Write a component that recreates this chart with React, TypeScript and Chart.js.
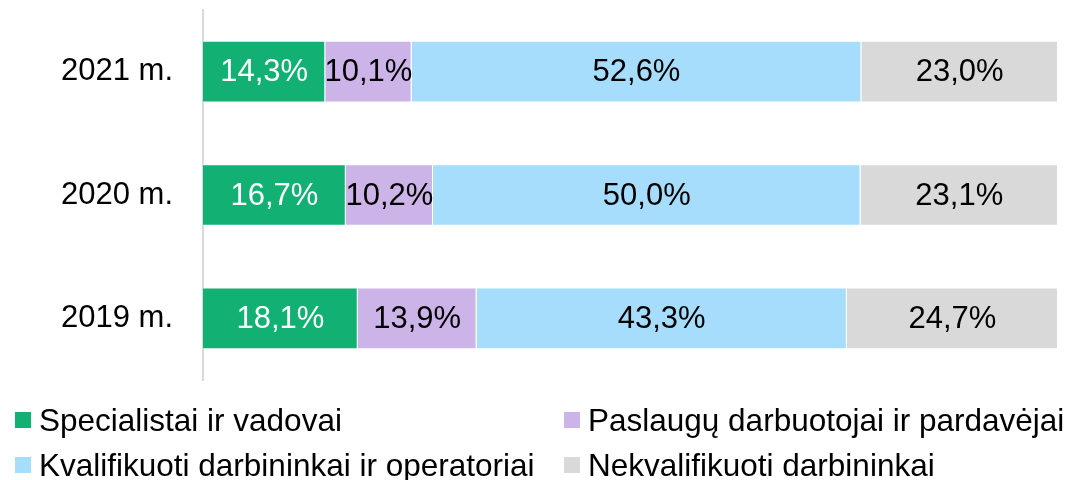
import React, { useEffect, useRef } from "react";
import { Chart, registerables } from "chart.js";

Chart.register(...registerables);

const categories = ["2021 m.", "2020 m.", "2019 m."];
const seriesNames = [
  "Specialistai ir vadovai",
  "Paslaugų darbuotojai ir pardavėjai",
  "Kvalifikuoti darbininkai ir operatoriai",
  "Nekvalifikuoti darbininkai",
];
const specialistai = [14.3, 16.7, 18.1];
const paslaugu = [10.1, 10.2, 13.9];
const kvalifikuoti = [52.6, 50.0, 43.3];
const nekvalifikuoti = [23.0, 23.1, 24.7];
const colors = ["#12B173", "#CDB4E8", "#A6DDFD", "#D9D9D9"];
const labelColors = ["#FFFFFF", "#000000", "#000000", "#000000"];

const FONT = "'Liberation Sans', Arial, sans-serif";

const labelPlugin = {
  id: "segLabels",
  afterDatasetsDraw(chart: any) {
    const ctx = chart.ctx;
    ctx.save();
    ctx.font = `31px ${FONT}`;
    ctx.textAlign = "center";
    ctx.textBaseline = "middle";
    chart.data.datasets.forEach((ds: any, di: number) => {
      const meta = chart.getDatasetMeta(di);
      meta.data.forEach((bar: any, i: number) => {
        const v = ds.data[i];
        const cx = (bar.x + bar.base) / 2;
        ctx.fillStyle = labelColors[di];
        ctx.fillText(v.toFixed(1).replace(".", ",") + "%", cx, bar.y + 1);
      });
    });
    ctx.restore();
  },
};

export default function App() {
  const ref = useRef<HTMLCanvasElement>(null);
  useEffect(() => {
    const values = [specialistai, paslaugu, kvalifikuoti, nekvalifikuoti];
    const chart = new Chart(ref.current!, {
      type: "bar",
      data: {
        labels: categories,
        datasets: seriesNames.map((n, i) => ({
          label: n,
          data: values[i],
          backgroundColor: colors[i],
          borderColor: "#FFFFFF",
          borderWidth: { top: 1, bottom: 1, left: 0, right: 1 },
          borderSkipped: false,
          barPercentage: 0.5,
          categoryPercentage: 1,
        })),
      },
      options: {
        indexAxis: "y",
        animation: false,
        responsive: false,
        maintainAspectRatio: false,
        layout: { padding: { left: 0, right: 16, top: 10, bottom: 100 } },
        plugins: { legend: { display: false }, tooltip: { enabled: false } },
        scales: {
          x: { stacked: true, min: 0, max: 100, display: false },
          y: {
            stacked: true,
            grid: { display: false, drawTicks: false },
            border: { display: true, color: "#D9D9D9", width: 2 },
            ticks: { color: "#000", font: { family: FONT, size: 31 }, padding: 30 },
            afterFit: (s: any) => {
              s.width = 203;
              s.paddingTop = 0;
              s.paddingBottom = 0;
            },
          },
        },
      },
      plugins: [labelPlugin],
    });
    return () => chart.destroy();
  }, []);

  const legendPos = [
    { left: 15, top: 420 },
    { left: 564, top: 420 },
    { left: 15, top: 465 },
    { left: 564, top: 465 },
  ];

  return (
    <div style={{ position: "fixed", left: 0, top: 0, width: 1074, height: 480, background: "#fff" }}>
      <canvas ref={ref} width={1074} height={480} style={{ position: "absolute", left: 0, top: 0 }} />
      {seriesNames.map((n, i) => (
        <div
          key={n}
          style={{
            position: "absolute",
            left: legendPos[i].left,
            top: legendPos[i].top - 18,
            height: 36,
            display: "flex",
            alignItems: "center",
            fontFamily: FONT,
            fontSize: 31.5,
            color: "#000",
            whiteSpace: "nowrap",
          }}
        >
          <span style={{ display: "inline-block", width: 16, height: 16, background: colors[i], marginRight: 8 }} />
          <span>{n}</span>
        </div>
      ))}
    </div>
  );
}
